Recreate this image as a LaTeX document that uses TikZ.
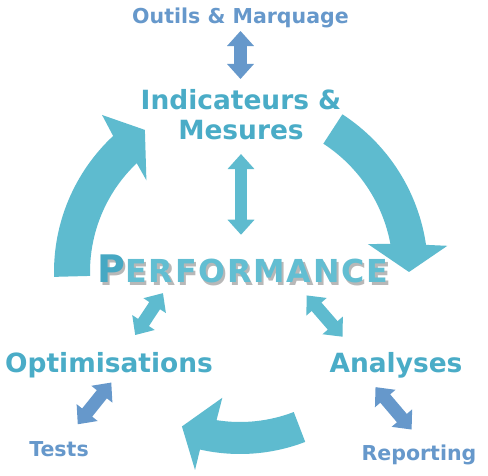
\documentclass[tikz,border=0pt]{standalone}
\usepackage{fontspec}
\setmainfont{DejaVu Sans}
\newfontfamily\perffont[LetterSpace=6]{DejaVu Sans}
\usepackage{xcolor}
\usetikzlibrary{arrows.meta}
\definecolor{cyclefill}{HTML}{5EBBCF}
\definecolor{stagetext}{HTML}{4AACC7}
\definecolor{tooltext}{HTML}{6698CB}
\definecolor{perfdark}{HTML}{46A8C3}
\definecolor{perflight}{HTML}{62BED2}
\definecolor{shadowgray}{HTML}{B8B8B8}

% word with a big initial, drawn twice for the shadow
\newcommand{\perfword}[2]{{\color{#1}\fontsize{27pt}{27pt}\selectfont P}{\color{#2}\fontsize{22.5pt}{27pt}\selectfont ERFORMANCE}}

\begin{document}
\begin{tikzpicture}[
  x=0.025cm, y=0.025cm,
  stage/.style={font=\bfseries\fontsize{18.8pt}{21.3pt}\selectfont, text=stagetext, inner sep=0pt, align=center},
  tool/.style={font=\bfseries\fontsize{14.6pt}{16pt}\selectfont, text=tooltext, inner sep=0pt},
  flow/.style={fill=cyclefill, draw=none},
  link/.style={<->, >={Triangle[length=10.7pt,width=18.5pt]}, line width=9.2pt, draw=cyclefill},
  toollink/.style={link, draw=tooltext}
]
\path[use as bounding box, fill=white] (0,0) rectangle (488,475);

% cycle arrows round the centre
\begin{scope}[shift={(240,203)}]
  \fill[flow] (181.5:186) arc[start angle=181.5, end angle=133, radius=186]
    -- (131.3:209) -- (123.8:171) -- (135.6:131) -- (133.5:150)
    arc[start angle=133.5, end angle=181.5, radius=150] -- cycle;
  \fill[flow] (57:188) arc[start angle=57, end angle=8.3, radius=188]
    -- (7.2:209) -- (0:169) -- (12.3:131) -- (10.6:153)
    arc[start angle=10.6, end angle=57, radius=153] -- cycle;
  \fill[flow] (291:150) arc[start angle=291, end angle=261, radius=150]
    -- (262:127) -- (249.4:165) -- (257.2:203) -- (257.3:182)
    arc[start angle=257.3, end angle=291, radius=182] -- cycle;
\end{scope}

\node[tool, anchor=base] (outils) at (240.5,451) {Outils \& Marquage};
\node[stage, anchor=north] (indic) at (241,386) {Indicateurs \&\\Mesures};
\node[anchor=base, inner sep=0pt, font=\perffont\bfseries] (perf) at (243,192)
  {\rlap{\smash{\hspace{1.6pt}\raisebox{-1.8pt}{\perfword{shadowgray}{shadowgray}}}}\perfword{perfdark}{perflight}};
\node[stage, anchor=base] (optim) at (109,102) {Optimisations};
\node[stage, anchor=base] (analyses) at (396,103) {Analyses};
\node[tool, anchor=base] (tests) at (59,19) {Tests};
\node[tool, anchor=base] (reporting) at (419,15) {Reporting};

\draw[toollink, shorten <=1.6pt, shorten >=7.1pt] (outils.south) -- (outils.south |- indic.north);
\draw[link, shorten <=10pt, shorten >=14.4pt] (indic.south) -- (indic.south |- perf.north);
\draw[link, shorten <=8pt, shorten >=15pt] (perf.191.6) -- (optim.42);
\draw[link, shorten <=11pt, shorten >=14pt] (perf.345.8) -- (analyses.162.8);
\draw[toollink, shorten <=3.4pt, shorten >=15pt] (optim.292) -- (tests.55);
\draw[toollink, shorten <=8.5pt, shorten >=13.6pt] (analyses.205.8) -- (reporting.64.4);
\end{tikzpicture}
\end{document}
